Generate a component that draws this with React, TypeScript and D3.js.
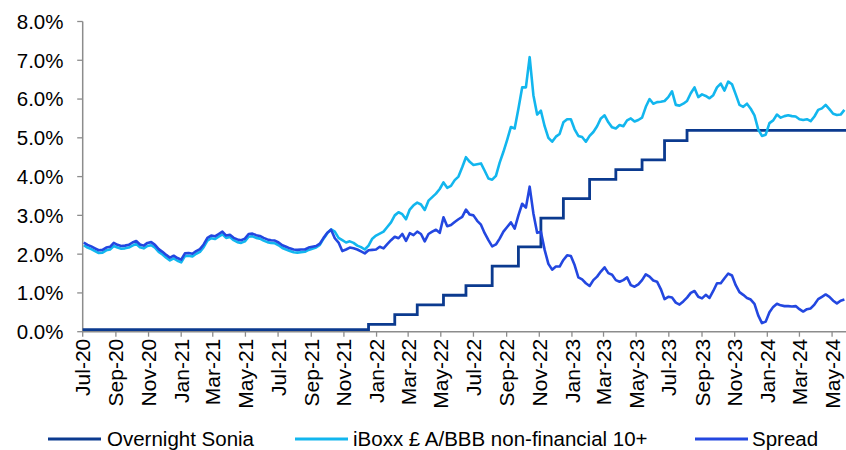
import React from "react";
import * as d3 from "d3";

const W = 846;
const H = 450;

// weekly observations starting Fri 3 Jul 2020
const startDate = new Date(2020, 6, 3);

const iboxx: number[] = [
  2.23, 2.17, 2.13, 2.08, 2.03, 2.04, 2.10, 2.12, 2.21, 2.17,
  2.14, 2.15, 2.17, 2.22, 2.26, 2.18, 2.15, 2.21, 2.23, 2.17,
  2.06, 1.99, 1.91, 1.84, 1.89, 1.83, 1.79, 1.95, 1.96, 1.94,
  2.01, 2.06, 2.18, 2.35, 2.41, 2.39, 2.45, 2.51, 2.42, 2.44,
  2.36, 2.31, 2.29, 2.33, 2.45, 2.46, 2.42, 2.40, 2.35, 2.31,
  2.29, 2.28, 2.23, 2.16, 2.12, 2.08, 2.05, 2.04, 2.05, 2.06,
  2.11, 2.14, 2.17, 2.24, 2.40, 2.54, 2.64, 2.58, 2.42, 2.36,
  2.30, 2.33, 2.29, 2.22, 2.18, 2.12, 2.22, 2.40, 2.48, 2.53,
  2.58, 2.70, 2.82, 3.00, 3.08, 3.03, 2.90, 3.15, 3.26, 3.33,
  3.28, 3.14, 3.38, 3.47, 3.56, 3.68, 3.85, 3.71, 3.76, 3.91,
  4.00, 4.24, 4.50, 4.38, 4.30, 4.32, 4.34, 4.15, 3.95, 3.92,
  4.02, 4.36, 4.64, 4.95, 5.28, 5.24, 5.75, 6.30, 6.30, 7.08,
  6.10, 5.60, 5.70, 5.30, 5.00, 4.90, 5.03, 5.10, 5.40, 5.48,
  5.48, 5.22, 5.05, 5.02, 4.90, 5.05, 5.15, 5.30, 5.50, 5.58,
  5.40, 5.27, 5.24, 5.33, 5.30, 5.45, 5.50, 5.42, 5.46, 5.52,
  5.80, 6.00, 5.88, 5.92, 5.93, 5.95, 6.05, 6.20, 5.85, 5.83,
  5.88, 5.95, 6.15, 6.30, 6.05, 6.12, 6.08, 6.02, 6.10, 6.30,
  6.40, 6.22, 6.45, 6.38, 6.12, 5.85, 5.80, 5.88, 5.75, 5.58,
  5.22, 5.05, 5.08, 5.38, 5.45, 5.60, 5.52, 5.56, 5.58, 5.56,
  5.55, 5.48, 5.46, 5.48, 5.43, 5.55, 5.72, 5.76, 5.85, 5.74,
  5.62, 5.59, 5.60, 5.72,
];

const spread: number[] = [
  2.30, 2.24, 2.20, 2.15, 2.10, 2.11, 2.17, 2.19, 2.29, 2.24,
  2.21, 2.22, 2.24, 2.30, 2.34, 2.25, 2.22, 2.29, 2.31, 2.24,
  2.13, 2.06, 1.98, 1.91, 1.96, 1.90, 1.86, 2.02, 2.03, 2.01,
  2.08, 2.13, 2.25, 2.42, 2.48, 2.46, 2.52, 2.58, 2.48, 2.50,
  2.42, 2.38, 2.36, 2.40, 2.52, 2.53, 2.49, 2.47, 2.42, 2.38,
  2.36, 2.35, 2.30, 2.23, 2.19, 2.15, 2.12, 2.11, 2.12, 2.12,
  2.17, 2.19, 2.21, 2.27, 2.42, 2.55, 2.63, 2.41, 2.30, 2.08,
  2.12, 2.17, 2.15, 2.12, 2.07, 2.02, 2.10, 2.11, 2.12, 2.19,
  2.15, 2.26, 2.36, 2.45, 2.41, 2.52, 2.34, 2.54, 2.49, 2.58,
  2.52, 2.33, 2.52, 2.58, 2.63, 2.55, 2.95, 2.72, 2.75, 2.83,
  2.90, 2.96, 3.15, 3.02, 3.00, 2.86, 2.76, 2.54, 2.36, 2.20,
  2.25, 2.40, 2.58, 2.70, 2.82, 2.66, 3.00, 3.30, 3.20, 3.74,
  3.05, 2.55, 2.58, 2.11, 1.75, 1.60, 1.68, 1.68, 1.85, 1.97,
  1.95, 1.72, 1.40, 1.35, 1.25, 1.18, 1.33, 1.42, 1.55, 1.66,
  1.51, 1.47, 1.33, 1.29, 1.33, 1.40, 1.20, 1.16, 1.22, 1.33,
  1.48, 1.42, 1.32, 1.29, 1.10, 0.84, 0.90, 0.88, 0.75, 0.70,
  0.78, 0.88, 1.00, 1.05, 0.90, 0.86, 0.95, 0.87, 1.05, 1.25,
  1.25, 1.38, 1.50, 1.45, 1.20, 1.02, 0.95, 0.87, 0.83, 0.72,
  0.42, 0.22, 0.26, 0.50, 0.64, 0.72, 0.68, 0.66, 0.66, 0.65,
  0.66, 0.58, 0.52, 0.58, 0.60, 0.70, 0.84, 0.90, 0.96, 0.90,
  0.80, 0.73, 0.80, 0.83,
];

// Overnight SONIA: level changes
const soniaDates: string[] = [
  "2020-07-01", "2021-12-17", "2022-02-04", "2022-03-18", "2022-05-06",
  "2022-06-17", "2022-08-05", "2022-09-23", "2022-11-04", "2022-12-16",
  "2023-02-03", "2023-03-24", "2023-05-12", "2023-06-23", "2023-08-04",
  "2024-05-27",
];
const soniaValues: number[] = [
  0.05, 0.19, 0.44, 0.69, 0.94,
  1.19, 1.69, 2.19, 2.93, 3.43,
  3.93, 4.18, 4.43, 4.93, 5.19,
  5.20,
];

const yTicks: number[] = [0, 1, 2, 3, 4, 5, 6, 7, 8];

const seriesNames: string[] = [
  "Overnight Sonia",
  "iBoxx £ A/BBB non-financial 10+",
  "Spread",
];
const seriesColors: string[] = ["#0b3a8f", "#12b6ee", "#2347e0"];

const FONT = "'Liberation Sans', Arial, sans-serif";

export default function App() {
  const x = d3
    .scaleTime()
    .domain([new Date(2020, 6, 1), new Date(2024, 4, 27)])
    .range([82.7, 846]);
  const y = d3.scaleLinear().domain([0, 8]).range([331.7, 21.5]);

  const weekDates = iboxx.map((_, i) => d3.timeDay.offset(startDate, 7 * i));
  const parse = d3.timeParse("%Y-%m-%d");
  const soniaPts: [Date, number][] = soniaDates.map((d, i) => [
    parse(d) as Date,
    soniaValues[i],
  ]);

  const line = d3
    .line<[Date, number]>()
    .x((d) => x(d[0]))
    .y((d) => y(d[1]));
  const stepLine = d3
    .line<[Date, number]>()
    .x((d) => x(d[0]))
    .y((d) => y(d[1]))
    .curve(d3.curveStepAfter);

  const iboxxPts: [Date, number][] = iboxx.map((v, i) => [weekDates[i], v]);
  const spreadPts: [Date, number][] = spread.map((v, i) => [weekDates[i], v]);

  const xTicks = x.ticks(d3.timeMonth.every(2) as d3.TimeInterval);
  const fmtX = d3.timeFormat("%b-%y");
  const fmtY = (v: number) => d3.format(".1f")(v) + "%";

  const axisColor = "#8c8c8c";
  const x0 = x.range()[0];
  const y0 = y(0);

  const legendItems = [
    { lx: 48, tx: 107 },
    { lx: 295, tx: 353 },
    { lx: 695, tx: 752 },
  ];
  const legendY = 439;

  return (
    <svg
      width={W}
      height={H}
      style={{ position: "absolute", left: 0, top: 0, display: "block", background: "#fff" }}
      fontFamily={FONT}
    >
      <rect x={0} y={0} width={W} height={H} fill="#fff" />
      {/* y axis */}
      <line x1={x0} x2={x0} y1={y(8)} y2={y0} stroke={axisColor} strokeWidth={1.5} />
      {yTicks.map((t) => (
        <g key={"y" + t}>
          <line x1={x0 - 5.5} x2={x0} y1={y(t)} y2={y(t)} stroke={axisColor} strokeWidth={1.3} />
          <text
            x={63.5}
            y={y(t)}
            dy="0.36em"
            textAnchor="end"
            fontSize={20.5}
            fill="#000"
          >
            {fmtY(t)}
          </text>
        </g>
      ))}
      {/* x axis ticks and labels */}
      {xTicks.map((d, i) => (
        <g key={"x" + i}>
          <line x1={x(d)} x2={x(d)} y1={y0} y2={y0 + 5} stroke={axisColor} strokeWidth={1.3} />
          <text
            transform={`translate(${x(d)},${y0 + 7}) rotate(-90)`}
            dy="0.36em"
            textAnchor="end"
            fontSize={21}
            fill="#000"
          >
            {fmtX(d)}
          </text>
        </g>
      ))}
      {/* series */}
      <path d={stepLine(soniaPts) || ""} fill="none" stroke={seriesColors[0]} strokeWidth={2.8} />
      <path d={line(iboxxPts) || ""} fill="none" stroke={seriesColors[1]} strokeWidth={2.6} strokeLinejoin="round" />
      <path d={line(spreadPts) || ""} fill="none" stroke={seriesColors[2]} strokeWidth={2.6} strokeLinejoin="round" />
      {/* x axis line on top */}
      <line x1={x0} x2={846} y1={y0} y2={y0} stroke={axisColor} strokeWidth={1.5} />
      {/* legend */}
      {seriesNames.map((n, i) => (
        <g key={"lg" + i}>
          <line
            x1={legendItems[i].lx}
            x2={legendItems[i].lx + 53}
            y1={legendY}
            y2={legendY}
            stroke={seriesColors[i]}
            strokeWidth={2.8}
          />
          <text x={legendItems[i].tx} y={legendY} dy="0.32em" fontSize={20.5} fill="#000">
            {n}
          </text>
        </g>
      ))}
    </svg>
  );
}
